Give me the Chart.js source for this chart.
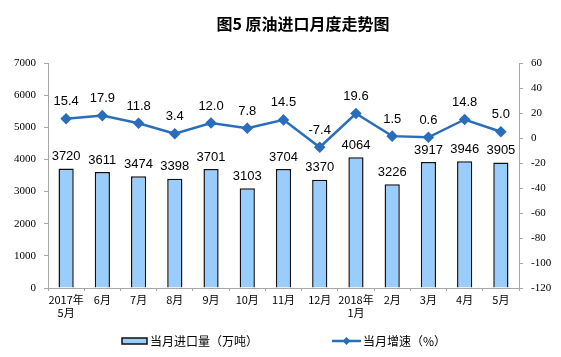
<!DOCTYPE html>
<html><head><meta charset="utf-8">
<script src="https://cdn.jsdelivr.net/npm/chart.js@4"></script>
<style>html,body{margin:0;padding:0;background:#fff}</style>
</head><body>
<canvas id="c" width="561" height="357"></canvas>
<script>
const categories = [["2017年","5月"],"6月","7月","8月","9月","10月","11月","12月",["2018年","1月"],"2月","3月","4月","5月"];
const importVolume = [3720,3611,3474,3398,3701,3103,3704,3370,4064,3226,3917,3946,3905];
const growthRate = [15.4,17.9,11.8,3.4,12.0,7.8,14.5,-7.4,19.6,1.5,0.6,14.8,5.0];
const seriesNames = ["当月进口量（万吨）","当月增速（%）"];
const titleText = "图5 原油进口月度走势图";

const LINE = "#2a6ebb";
const BAR = "#99ccff";
const AXIS = "#a6a6a6";
const TICKFONT = {size:11, family:"'Liberation Serif', 'Times New Roman', serif"};

const labelPlugin = {
  id:'labels',
  afterDatasetsDraw(chart){
    const ctx = chart.ctx;
    ctx.save();
    ctx.font = "13px 'Liberation Sans', Arial, sans-serif";
    ctx.fillStyle = "#000";
    ctx.textAlign = "center";
    ctx.textBaseline = "middle";
    chart.getDatasetMeta(0).data.forEach((el,i)=>{
      ctx.fillText(String(importVolume[i]), el.x, el.y-12);
    });
    chart.getDatasetMeta(1).data.forEach((el,i)=>{
      ctx.fillText(growthRate[i].toFixed(1), el.x, el.y-17);
    });
    ctx.restore();
  },
  afterDraw(chart){
    const ctx = chart.ctx;
    ctx.save();
    // title
    ctx.font = "bold 16px 'Noto Sans CJK SC', sans-serif";
    ctx.fillStyle = "#000";
    ctx.textAlign = "center";
    ctx.textBaseline = "middle";
    ctx.fillText(titleText, 303, 24);
    ctx.textAlign = "left";
    const y = 341;
    // bar legend
    ctx.fillStyle = BAR;
    ctx.strokeStyle = "#111";
    ctx.lineWidth = 1.5;
    ctx.fillRect(122, y-3, 25, 6);
    ctx.strokeRect(122, y-3, 25, 6);
    ctx.font = "12px 'Noto Sans CJK SC', sans-serif";
    ctx.fillStyle = "#000";
    ctx.fillText(seriesNames[0], 150, y);
    // line legend
    ctx.strokeStyle = LINE;
    ctx.lineWidth = 2.5;
    ctx.beginPath(); ctx.moveTo(332, y); ctx.lineTo(361, y); ctx.stroke();
    ctx.fillStyle = LINE;
    ctx.beginPath(); ctx.moveTo(346.5, y-4); ctx.lineTo(350.5, y); ctx.lineTo(346.5, y+4); ctx.lineTo(342.5, y); ctx.closePath(); ctx.fill();
    ctx.fillStyle = "#000";
    ctx.fillText(seriesNames[1], 363, y);
    ctx.restore();
  }
};

new Chart(document.getElementById('c'), {
  data: {
    labels: categories,
    datasets: [
      {type:'bar', label: seriesNames[0], data: importVolume, yAxisID:'y',
       backgroundColor: BAR, borderColor:'#111', borderWidth:1.5,
       barPercentage:0.42, categoryPercentage:1, order:2},
      {type:'line', label: seriesNames[1], data: growthRate, yAxisID:'y1',
       borderColor: LINE, backgroundColor: LINE, borderWidth:2.5,
       pointStyle:'rectRot', pointRadius:4, pointHoverRadius:4, tension:0, order:1}
    ]
  },
  options: {
    responsive:false, animation:false,
    devicePixelRatio:1,
    layout:{padding:{left:0,right:0,top:63,bottom:0}},
    plugins:{
      legend:{display:false},
      tooltip:{enabled:false},
      title:{display:false}
    },
    scales:{
      x:{
        offset:true,
        grid:{display:true, drawOnChartArea:false, offset:true, color:AXIS, tickLength:3},
        border:{color:AXIS, width:1},
        ticks:{color:'#000', font:{size:11, family:"'Noto Sans CJK SC', sans-serif"}, maxRotation:0, autoSkip:false, padding:2},
        afterFit(s){ s.height = 69; }
      },
      y:{
        position:'left', min:0, max:7000,
        ticks:{stepSize:1000, color:'#000', font:TICKFONT, padding:8, callback:v=>String(v)},
        grid:{display:true, drawOnChartArea:false, color:AXIS, tickLength:4},
        border:{color:AXIS, width:1},
        afterFit(s){ s.width = 48; }
      },
      y1:{
        position:'right', min:-120, max:60,
        ticks:{stepSize:20, color:'#000', font:TICKFONT, padding:8, callback:v=>String(v)},
        grid:{display:true, drawOnChartArea:false, color:AXIS, tickLength:4},
        border:{color:AXIS, width:1},
        afterFit(s){ s.width = 42; }
      }
    }
  },
  plugins:[labelPlugin]
});
</script>
</body></html>
